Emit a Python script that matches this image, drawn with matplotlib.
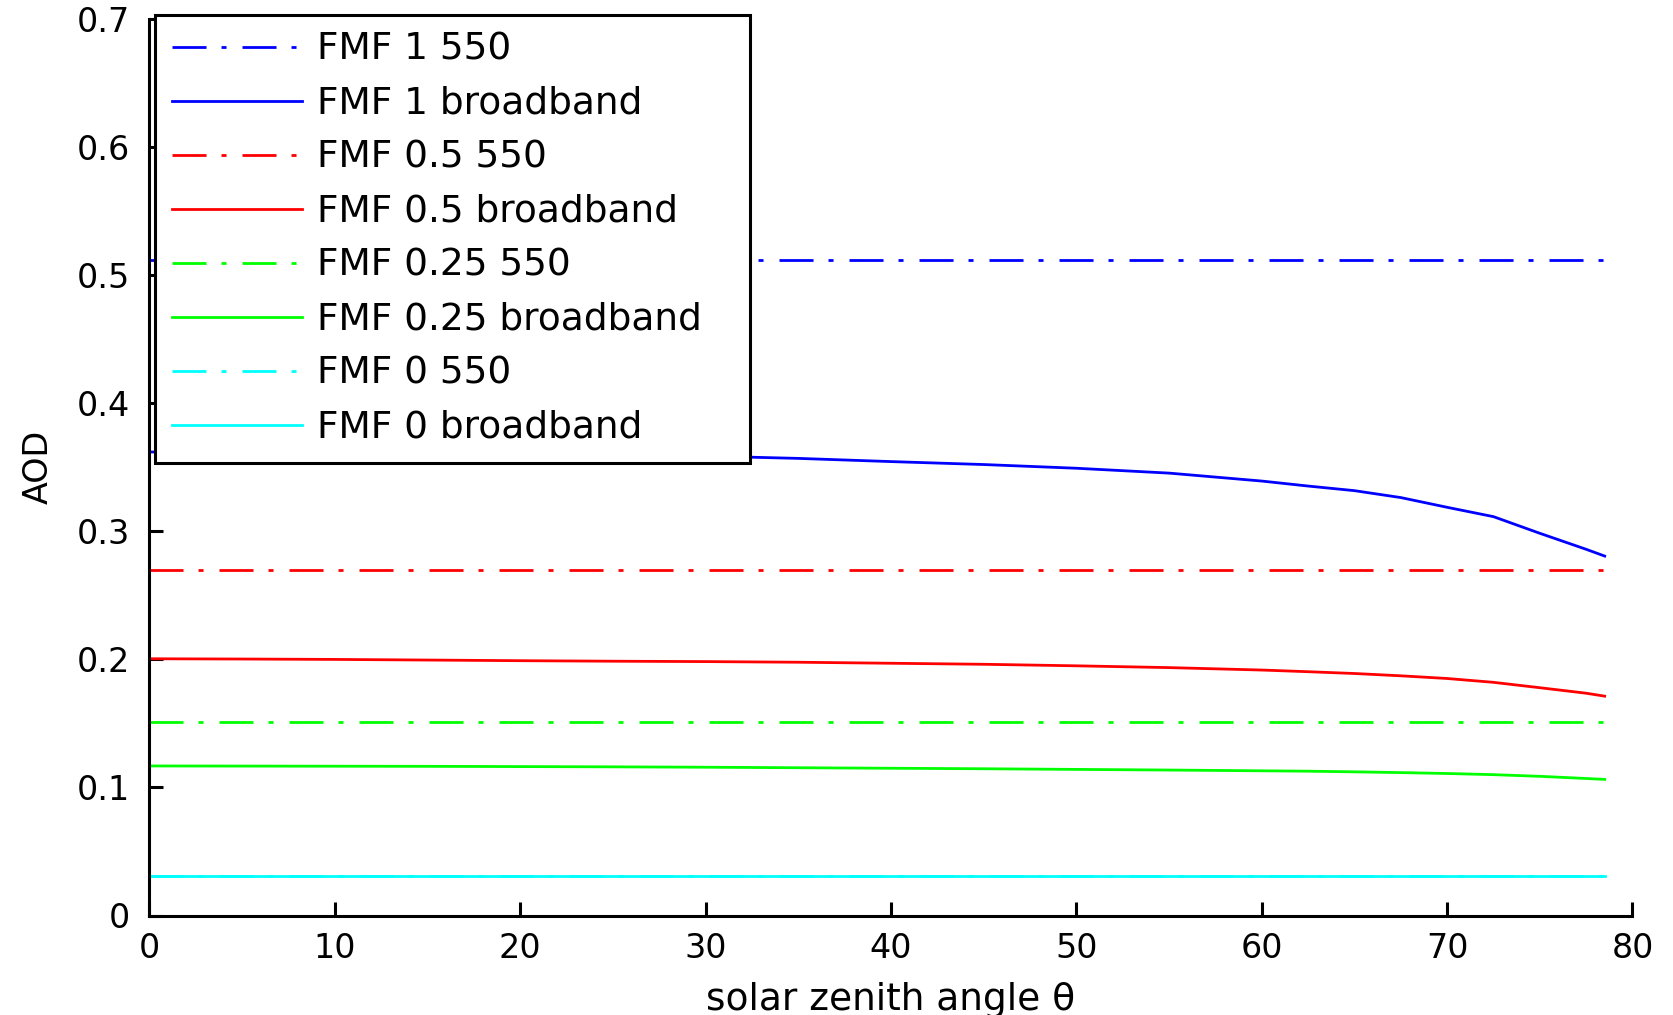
import matplotlib
matplotlib.use("Agg")
import matplotlib.pyplot as plt
import numpy as np

plt.rcParams["font.family"] = ["DejaVu Sans"]
plt.rcParams["lines.scale_dashes"] = False

# Solar zenith angle grid (degrees)
zenith = [0, 5, 10, 15, 20, 25, 30, 35, 40, 45, 50, 55, 60, 62.5, 65,
          67.5, 70, 72.5, 75, 77.5, 78.5]

# AOD at 550 nm for each fine-mode fraction (independent of angle)
aod550_fmf1 = 0.512
aod550_fmf05 = 0.270
aod550_fmf025 = 0.151
aod550_fmf0 = 0.0306

# Broadband AOD vs. solar zenith angle
bb_fmf1 = [0.3620, 0.3619, 0.3615, 0.3609, 0.3601, 0.3595, 0.3588, 0.3570,
           0.3545, 0.3522, 0.3493, 0.3455, 0.3393, 0.3354, 0.3318, 0.3264,
           0.3188, 0.3115, 0.2985, 0.2860, 0.2807]
bb_fmf05 = [0.2005, 0.2003, 0.2000, 0.1995, 0.1990, 0.1986, 0.1983, 0.1978,
            0.1970, 0.1962, 0.1950, 0.1936, 0.1917, 0.1904, 0.1890, 0.1872,
            0.1851, 0.1821, 0.1779, 0.1736, 0.1713]
bb_fmf025 = [0.1168, 0.1167, 0.1166, 0.1165, 0.1163, 0.1161, 0.1158, 0.1154,
             0.1150, 0.1146, 0.1141, 0.1136, 0.1130, 0.1127, 0.1122, 0.1116,
             0.1109, 0.1100, 0.1087, 0.1070, 0.1063]
bb_fmf0 = [0.0306] * len(zenith)

labels = ["FMF 1 550", "FMF 1 broadband", "FMF 0.5 550", "FMF 0.5 broadband",
          "FMF 0.25 550", "FMF 0.25 broadband", "FMF 0 550", "FMF 0 broadband"]
colors = ["#0000FF", "#FF0000", "#00FF00", "#00FFFF"]

dashdot = (0, (24.5, 10.8, 3.6, 11.5))
lw = 2.0

fig = plt.figure(figsize=(16.73, 10.15), dpi=100)
ax = fig.add_axes([149.4 / 1673, 1 - 915.5 / 1015, 1483.1 / 1673, 896.3 / 1015])

x = np.asarray(zenith)
series = [
    (aod550_fmf1, bb_fmf1),
    (aod550_fmf05, bb_fmf05),
    (aod550_fmf025, bb_fmf025),
    (aod550_fmf0, bb_fmf0),
]
handles = []
for i, (c550, bb) in enumerate(series):
    h1, = ax.plot(x, np.full_like(x, c550, dtype=float), color=colors[i],
                  lw=lw, linestyle=dashdot, label=labels[2 * i])
    h2, = ax.plot(x, bb, color=colors[i], lw=lw, linestyle="-",
                  label=labels[2 * i + 1])
    handles += [h1, h2]

ax.set_xlim(0, 80)
ax.set_ylim(0, 0.7)
ax.set_xticks(np.arange(0, 81, 10))
ax.set_yticks(np.arange(0, 0.71, 0.1))
ax.set_yticklabels(["0", "0.1", "0.2", "0.3", "0.4", "0.5", "0.6", "0.7"])

for side in ("top", "right"):
    ax.spines[side].set_visible(False)
for side in ("left", "bottom"):
    ax.spines[side].set_linewidth(2.2)

ax.tick_params(axis="both", direction="in", length=10, width=2.2,
               labelsize=24, colors="black")
ax.tick_params(axis="x", pad=12)
ax.tick_params(axis="y", pad=14)

ax.set_xlabel("solar zenith angle θ", fontsize=27, labelpad=12)
ax.set_ylabel("AOD", fontsize=24, labelpad=16)

leg = ax.legend(handles=handles, loc="upper left",
                bbox_to_anchor=(0.0036, 0.508, 0.4014, 0.4967),
                mode="expand", borderaxespad=0, fontsize=27,
                handlelength=3.49, handletextpad=0.39, labelspacing=0.48,
                borderpad=0.45, fancybox=False, framealpha=1,
                edgecolor="black")
leg.get_frame().set_linewidth(2.2)
leg.set_zorder(10)

fig.savefig("out.png", dpi=100)
